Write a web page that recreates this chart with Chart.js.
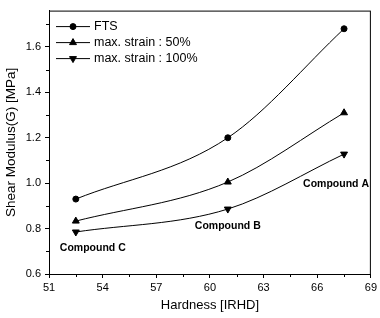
<!DOCTYPE html>
<html>
<head>
<meta charset="utf-8">
<script src="https://cdn.jsdelivr.net/npm/chart.js@4.4.1/dist/chart.umd.min.js"></script>
<style>
  body { margin: 0; background: #fff; }
  canvas { display: block; }
</style>
</head>
<body>
<canvas id="modChart" width="380" height="318"></canvas>
<script>
const hardness = [52.5, 61.0, 67.5];
const fts = [0.93, 1.20, 1.68];
const strain50 = [0.833, 1.005, 1.31];
const strain100 = [0.785, 0.886, 1.128];

const xTicks = [51, 54, 57, 60, 63, 66, 69];
const xMinor = [52.5, 55.5, 58.5, 61.5, 64.5, 67.5];
const yTicks = [0.6, 0.8, 1.0, 1.2, 1.4, 1.6];
const yMinor = [0.7, 0.9, 1.1, 1.3, 1.5, 1.7];

const compoundNames = ['Compound A', 'Compound B', 'Compound C'];
const compoundX = [67.05, 61.0, 53.45];
const compoundY = [0.995, 0.812, 0.712];

const FONT = '"Liberation Sans", Arial, sans-serif';

function pts(ys) {
    return hardness.map((x, i) => ({ x: x, y: ys[i] }));
}

const series = [
    { label: 'FTS', data: pts(fts), pointStyle: 'circle', pointRadius: 3, pointRotation: 0 },
    { label: 'max. strain : 50%', data: pts(strain50), pointStyle: 'triangle', pointRadius: 4, pointRotation: 0 },
    { label: 'max. strain : 100%', data: pts(strain100), pointStyle: 'triangle', pointRadius: 4, pointRotation: 180 }
];

// frame, minor ticks, legend and compound labels
const decorations = {
    id: 'decorations',
    afterDraw(chart) {
        const ctx = chart.ctx;
        const a = chart.chartArea;
        const xs = chart.scales.x, ys = chart.scales.y;
        ctx.save();
        ctx.strokeStyle = '#000';
        ctx.lineWidth = 1;
        ctx.strokeRect(a.left + 0.5, a.top + 0.5, a.right - a.left - 1, a.bottom - a.top);

        ctx.beginPath();
        xMinor.forEach(v => {
            const px = Math.round(xs.getPixelForValue(v)) + 0.5;
            ctx.moveTo(px, a.bottom);
            ctx.lineTo(px, a.bottom + 3);
        });
        yMinor.forEach(v => {
            const py = Math.round(ys.getPixelForValue(v)) + 0.5;
            ctx.moveTo(a.left, py);
            ctx.lineTo(a.left - 3, py);
        });
        ctx.stroke();

        // legend
        ctx.font = '12.5px ' + FONT;
        ctx.textBaseline = 'middle';
        ctx.fillStyle = '#000';
        series.forEach((s, i) => {
            const y = a.top + 16 + i * 16;
            const x0 = a.left + 7;
            ctx.beginPath();
            ctx.moveTo(x0, y);
            ctx.lineTo(x0 + 34, y);
            ctx.stroke();
            Chart.helpers.drawPoint(ctx, {
                pointStyle: s.pointStyle, radius: s.pointRadius,
                rotation: s.pointRotation, borderWidth: 1
            }, x0 + 17, y);
            ctx.fillText(s.label, x0 + 38, y);
        });

        // compound labels
        ctx.font = 'bold 10.5px ' + FONT;
        ctx.textAlign = 'center';
        compoundNames.forEach((t, i) => {
            ctx.fillText(t, xs.getPixelForValue(compoundX[i]), ys.getPixelForValue(compoundY[i]));
        });
        ctx.restore();
    }
};

new Chart(document.getElementById('modChart'), {
    type: 'line',
    data: {
        datasets: series.map(s => ({
            label: s.label,
            data: s.data,
            borderColor: '#000',
            backgroundColor: '#000',
            borderWidth: 1,
            pointStyle: s.pointStyle,
            pointRadius: s.pointRadius,
            pointRotation: s.pointRotation,
            pointBorderWidth: 1,
            cubicInterpolationMode: 'monotone',
            fill: false
        }))
    },
    options: {
        responsive: false,
        animation: false,
        layout: { padding: { top: 7, right: 5, left: 0, bottom: 0 } },
        plugins: { legend: { display: false }, tooltip: { enabled: false } },
        scales: {
            x: {
                type: 'linear',
                min: 51, max: 69,
                afterBuildTicks: s => { s.ticks = xTicks.map(v => ({ value: v })); },
                afterFit: s => { s.height = 44; },
                grid: { drawOnChartArea: false, drawTicks: true, tickLength: 4, color: '#000' },
                border: { display: true, color: '#000', width: 1 },
                ticks: { color: '#000', font: { family: FONT, size: 11 }, padding: 3, maxRotation: 0 },
                title: { display: true, text: 'Hardness [IRHD]', color: '#000',
                         font: { family: FONT, size: 13 }, padding: { top: 0, bottom: 5 } }
            },
            y: {
                type: 'linear',
                min: 0.6, max: 1.76,
                afterBuildTicks: s => { s.ticks = yTicks.map(v => ({ value: v })); },
                afterFit: s => { s.width = 49; },
                grid: { drawOnChartArea: false, drawTicks: true, tickLength: 4, color: '#000' },
                border: { display: true, color: '#000', width: 1 },
                ticks: { color: '#000', font: { family: FONT, size: 11 }, padding: 4,
                         callback: v => v.toFixed(1) },
                title: { display: true, text: 'Shear Modulus(G) [MPa]', color: '#000',
                         font: { family: FONT, size: 13.5 }, padding: { top: 3, bottom: 0 } }
            }
        }
    },
    plugins: [decorations]
});
</script>
</body>
</html>
